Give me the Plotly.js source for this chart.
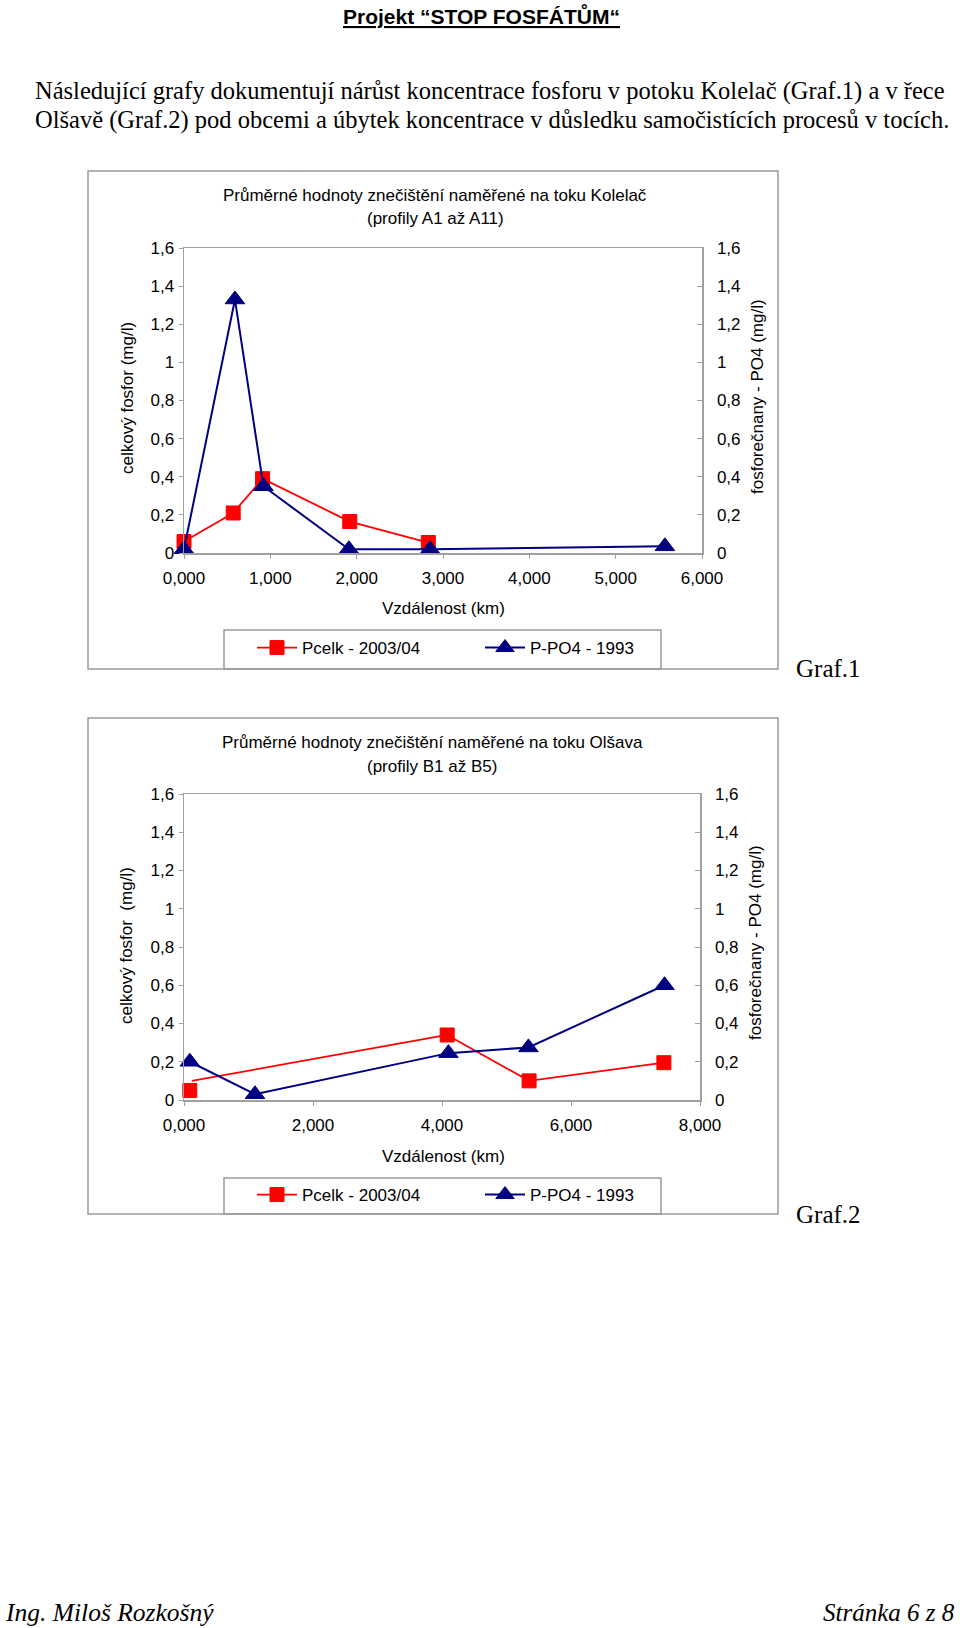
<!DOCTYPE html>
<html>
<head>
<meta charset="utf-8">
<script src="https://cdn.plot.ly/plotly-3.0.1.min.js"></script>
<style>
html,body{margin:0;padding:0;background:#fff;}
#page{width:960px;height:1628px;}
</style>
</head>
<body>
<div id="page"></div>
<script>
// ---- Data: Graf.1 (Kolelač, profily A1 až A11) ----
const kolelacDistPcelk = [0.00, 0.57, 0.91, 1.92, 2.83];
const kolelacPcelk     = [0.06, 0.21, 0.39, 0.165, 0.055];
const kolelacDistPPO4  = [0.00, 0.59, 0.92, 1.91, 2.85, 5.57];
const kolelacPPO4      = [0.02, 1.33, 0.35, 0.02, 0.02, 0.035];

// ---- Data: Graf.2 (Olšava, profily B1 až B5) ----
const olsavaDistPcelk  = [0.09, 4.08, 5.35, 7.44];
const olsavaPcelk      = [0.05, 0.34, 0.10, 0.195];
const olsavaPcelkLineStart = [0.12, 0.10];   // where the drawn red line begins
const olsavaDistPPO4   = [0.09, 1.10, 4.10, 5.34, 7.45];
const olsavaPPO4       = [0.20, 0.03, 0.245, 0.275, 0.60];

// ---- Labels ----
const seriesNames = ['Pcelk - 2003/04', 'P-PO4 - 1993'];
const chartTitles = [
  ['Průměrné hodnoty znečištění naměřené na toku Kolelač', '(profily A1 až A11)'],
  ['Průměrné hodnoty znečištění naměřené na toku Olšava', '(profily B1 až B5)']
];
const xTitle = 'Vzdálenost (km)';
const yLeftTitles = ['celkový fosfor (mg/l)', 'celkový fosfor  (mg/l)'];
const yRightTitle = 'fosforečnany - PO4 (mg/l)';
const pageTitle = 'Projekt “STOP FOSFÁTŮM“';
const paragraph = [
  'Následující grafy dokumentují nárůst koncentrace fosforu v potoku Kolelač (Graf.1) a v řece',
  'Olšavě (Graf.2) pod obcemi a úbytek koncentrace v důsledku samočistících procesů v tocích.'
];
const grafLabels = ['Graf.1', 'Graf.2'];
const footerLeft = 'Ing. Miloš Rozkošný';
const footerRight = 'Stránka 6 z 8';

// ---- Styling helpers ----
const W = 960, H = 1628;
const fx = x => x / W;
const fy = y => 1 - y / H;
const SANS = 'Liberation Sans, Arial, sans-serif';
const SERIF = 'Liberation Serif, Times New Roman, serif';
const RED = '#FF0000', NAVY = '#000080', AX = '#a0a0a0', FRAME = '#9a9a9a';
const tickFont = {family: SANS, size: 17, color: '#000'};

const redStyle = {color: RED, width: 1.8};
const redMarker = {symbol: 'square', size: 14, color: RED, line: {color: RED, width: 1}};
const blueStyle = {color: NAVY, width: 2};
const blueMarker = {symbol: 'triangle-up', size: 17, color: NAVY, line: {color: NAVY, width: 1}};

const traces = [
  // Graf.1
  {x: kolelacDistPcelk, y: kolelacPcelk, name: seriesNames[0], mode: 'lines+markers',
   xaxis: 'x', yaxis: 'y', line: redStyle, marker: redMarker, cliponaxis: false, legend: 'legend'},
  {x: kolelacDistPPO4, y: kolelacPPO4, name: seriesNames[1], mode: 'lines+markers',
   xaxis: 'x', yaxis: 'y2', line: blueStyle, marker: blueMarker, cliponaxis: false, legend: 'legend'},
  // Graf.2
  {x: [olsavaPcelkLineStart[0], olsavaDistPcelk[1]], y: [olsavaPcelkLineStart[1], olsavaPcelk[1]],
   mode: 'lines', xaxis: 'x2', yaxis: 'y3', line: redStyle, showlegend: false, cliponaxis: false, hoverinfo: 'skip'},
  {x: olsavaDistPcelk.slice(1), y: olsavaPcelk.slice(1), name: seriesNames[0], mode: 'lines+markers',
   xaxis: 'x2', yaxis: 'y3', line: redStyle, marker: redMarker, cliponaxis: false, legend: 'legend2'},
  {x: olsavaDistPcelk.slice(0, 1), y: olsavaPcelk.slice(0, 1), mode: 'markers', showlegend: false,
   xaxis: 'x2', yaxis: 'y3', marker: redMarker, cliponaxis: false},
  {x: olsavaDistPPO4, y: olsavaPPO4, name: seriesNames[1], mode: 'lines+markers',
   xaxis: 'x2', yaxis: 'y4', line: blueStyle, marker: blueMarker, cliponaxis: false, legend: 'legend2'}
];

function xAxis(domainPx, range, dtick, anchor) {
  return {domain: [fx(domainPx[0]), fx(domainPx[1])], range: range, dtick: dtick, tick0: 0,
    tickformat: '.3f', showline: true, linecolor: AX, linewidth: 1.5, mirror: true,
    ticks: 'outside', ticklen: 4, tickcolor: AX, showgrid: false, zeroline: false,
    tickfont: tickFont, anchor: anchor, ticklabelstandoff: 5, fixedrange: true};
}
function yLeft(domainPx, anchor) {
  return {domain: [fy(domainPx[1]), fy(domainPx[0])], range: [0, 1.6], dtick: 0.2, tick0: 0,
    showline: true, linecolor: AX, linewidth: 1.5, ticks: 'outside', ticklen: 4, tickcolor: AX,
    showgrid: false, zeroline: false, tickfont: tickFont, anchor: anchor, fixedrange: true,
    ticklabelstandoff: 1};
}
function yRight(overlay, anchor) {
  return {overlaying: overlay, side: 'right', anchor: anchor, range: [0, 1.6], dtick: 0.2, tick0: 0,
    showline: true, linecolor: AX, linewidth: 1.5, ticks: 'inside', ticklen: 5, tickcolor: AX,
    showgrid: false, zeroline: false, tickfont: tickFont, fixedrange: true, ticklabelstandoff: 10};
}

function ann(text, x, y, opts) {
  return Object.assign({text: text, x: fx(x), y: fy(y), xref: 'paper', yref: 'paper',
    showarrow: false, xanchor: 'center', yanchor: 'middle',
    font: {family: SANS, size: 17, color: '#000'}}, opts || {});
}
const serifFont = s => ({family: SERIF, size: s, color: '#000'});

const annotations = [
  ann('<b><u>' + pageTitle + '</u></b>', 481, 15, {font: {family: SANS, size: 21, color: '#000'}}),
  ann(paragraph[0], 33, 91, {xanchor: 'left', font: serifFont(24.5)}),
  ann(paragraph[1], 33, 120, {xanchor: 'left', font: serifFont(24.5)}),
  // Graf.1
  ann(chartTitles[0][0], 435, 196),
  ann(chartTitles[0][1], 435, 219),
  ann(xTitle, 443, 609),
  ann(yLeftTitles[0], 127, 398, {textangle: -90}),
  ann(yRightTitle, 757, 397, {textangle: -90}),
  ann(grafLabels[0], 794, 668, {xanchor: 'left', font: serifFont(25)}),
  // Graf.2
  ann(chartTitles[1][0], 432, 742),
  ann(chartTitles[1][1], 432, 766),
  ann(xTitle, 443, 1156),
  ann(yLeftTitles[1], 127, 946, {textangle: -90}),
  ann(yRightTitle, 756, 943, {textangle: -90}),
  ann(grafLabels[1], 794, 1214, {xanchor: 'left', font: serifFont(25)}),
  // footer
  ann('<i>' + footerLeft + '</i>', 3, 1612, {xanchor: 'left', font: serifFont(25.5)}),
  ann('<i>' + footerRight + '</i>', 957, 1612, {xanchor: 'right', font: serifFont(25)})
];

function rect(x0, y0, x1, y1) {
  return {type: 'rect', xref: 'paper', yref: 'paper', x0: fx(x0), x1: fx(x1), y0: fy(y1), y1: fy(y0),
    line: {color: FRAME, width: 1.5}, fillcolor: 'rgba(0,0,0,0)', layer: 'below'};
}
const shapes = [
  rect(88, 171, 778, 669),
  rect(224, 630, 661, 669),
  rect(88, 718, 778, 1214),
  rect(224, 1178, 661, 1214)
];

const legendBase = {orientation: 'h', xanchor: 'left', yanchor: 'middle', entrywidth: 173,
  itemwidth: 40, bgcolor: 'rgba(0,0,0,0)', borderwidth: 0,
  font: {family: SANS, size: 17, color: '#000'}, traceorder: 'normal'};

const layout = {
  width: W, height: H, margin: {l: 0, r: 0, t: 0, b: 0},
  paper_bgcolor: '#fff', plot_bgcolor: '#fff', showlegend: true,
  separators: ', ',
  xaxis: xAxis([184, 702], [0, 6], 1, 'y'),
  yaxis: yLeft([248, 553], 'x'),
  yaxis2: yRight('y', 'x'),
  xaxis2: xAxis([184, 700], [0, 8], 2, 'y3'),
  yaxis3: yLeft([794, 1100], 'x2'),
  yaxis4: yRight('y3', 'x2'),
  legend: Object.assign({}, legendBase, {x: fx(252), y: fy(648)}),
  legend2: Object.assign({}, legendBase, {x: fx(252), y: fy(1195)}),
  annotations: annotations,
  shapes: shapes
};

Plotly.newPlot('page', traces, layout, {staticPlot: true, displayModeBar: false});
</script>
</body>
</html>
